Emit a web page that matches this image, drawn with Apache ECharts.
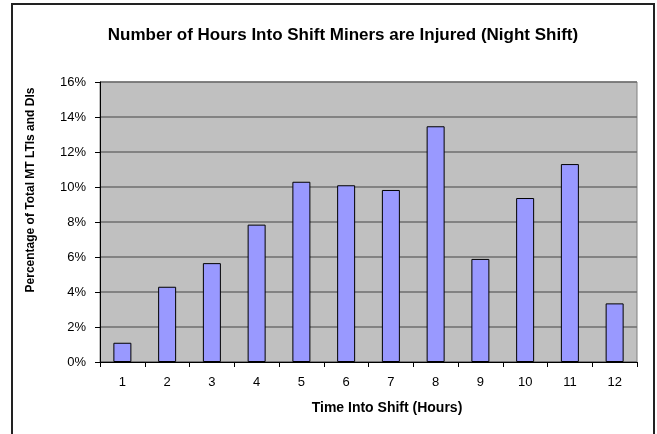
<!DOCTYPE html>
<html>
<head>
<meta charset="utf-8">
<script src="https://cdn.jsdelivr.net/npm/echarts@6/dist/echarts.min.js"></script>
<style>
  html, body { margin: 0; padding: 0; background: #fff; }
  #chart { width: 657px; height: 434px; }
</style>
</head>
<body>
<div id="chart"></div>
<script>
// hours into shift and % of total MT LTIs and DIs
const hours = ['1', '2', '3', '4', '5', '6', '7', '8', '9', '10', '11', '12'];
const injuryPct = [1.1, 4.3, 5.65, 7.85, 10.3, 10.1, 9.83, 13.47, 5.89, 9.37, 11.31, 3.35];
const yTicks = [0, 2, 4, 6, 8, 10, 12, 14, 16];

const font = 'Arial, "Liberation Sans", sans-serif';

let chart = echarts.init(document.getElementById('chart'));

let options = {
  animation: false,
  title: {
    text: 'Number of Hours Into Shift Miners are Injured (Night Shift)',
    left: 338,
    top: 22,
    textAlign: 'center',
    textStyle: { fontFamily: font, fontSize: 17, fontWeight: 'bold', color: '#000' }
  },
  grid: {
    left: 100,
    top: 82,
    width: 537,
    height: 280,
    show: true,
    backgroundColor: '#C0C0C0',
    borderColor: '#808080',
    borderWidth: 1
  },
  xAxis: {
    type: 'category',
    data: hours,
    axisLine: { lineStyle: { color: '#000', width: 1 } },
    axisTick: { show: true, length: 5, lineStyle: { color: '#000' } },
    axisLabel: { fontFamily: font, fontSize: 13, color: '#000', margin: 14 }
  },
  yAxis: {
    type: 'value',
    min: yTicks[0],
    max: yTicks[yTicks.length - 1],
    interval: 2,
    axisLine: { show: true, lineStyle: { color: '#000', width: 1 } },
    axisTick: { show: true, length: 5, lineStyle: { color: '#000' } },
    axisLabel: { fontFamily: font, fontSize: 13, color: '#000', margin: 14, formatter: '{value}%' },
    splitLine: { show: true, lineStyle: { color: '#6e6e6e', width: 1.5 } }
  },
  series: [
    {
      type: 'bar',
      data: injuryPct,
      barWidth: 18,
      itemStyle: { color: '#9999FF', borderColor: '#000', borderWidth: 1 }
    }
  ],
  graphic: [
    {
      type: 'rect',
      shape: { x: 12, y: 4, width: 642, height: 460 },
      style: { fill: 'none', stroke: '#222', lineWidth: 2 },
      silent: true
    },
    {
      type: 'text',
      x: 31,
      y: 190,
      rotation: Math.PI / 2,
      style: {
        text: 'Percentage of Total MT LTIs and DIs',
        font: 'bold 12px ' + font,
        fill: '#000',
        align: 'center',
        verticalAlign: 'middle'
      }
    },
    {
      type: 'text',
      x: 387,
      y: 408,
      style: {
        text: 'Time Into Shift (Hours)',
        font: 'bold 14px ' + font,
        fill: '#000',
        align: 'center',
        verticalAlign: 'middle'
      }
    }
  ]
};

chart.setOption(options);
</script>
</body>
</html>
